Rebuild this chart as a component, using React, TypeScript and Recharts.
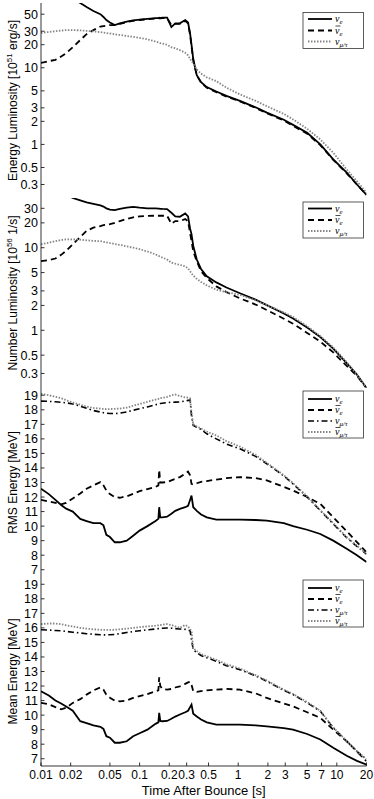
import React from "react";
import { LineChart, Line, XAxis, YAxis, Label } from "recharts";

// time after bounce [s]
const times = [0.01, 0.012, 0.014, 0.016, 0.018, 0.021, 0.025, 0.029, 0.034, 0.04, 0.043, 0.046, 0.05, 0.056, 0.063, 0.074, 0.086, 0.1, 0.12, 0.145, 0.155, 0.158, 0.162, 0.17, 0.19, 0.21, 0.23, 0.256, 0.29, 0.31, 0.325, 0.336, 0.35, 0.38, 0.42, 0.48, 0.6, 0.76, 1.04, 1.5, 1.95, 2.9, 3.6, 5, 6.8, 9.2, 12.6, 16, 20];

// energy luminosity [1e51 erg/s]
const eLumNuE = [150, 130, 115, 100, 90, 80, 70, 62, 55, 50, 46, 42, 39, 36, 38, 40, 41.5, 42.5, 43.5, 44.5, 44.5, 45, 44.5, 45, 45, 34, 38, 38, 42, 39, 28, 20, 13, 8, 6.5, 5.6, 4.9, 4.3, 3.7, 3.05, 2.6, 2.1, 1.8, 1.42, 1.0, 0.64, 0.43, 0.3, 0.22];
const eLumNuEBar = [11.6, 12.2, 12.7, 14, 15.5, 18.5, 23, 27.5, 31, 34.5, 35, 35.5, 36, 36, 37.5, 39.5, 41, 42, 43, 44, 44, 44, 44, 44.5, 44.5, 36, 37.5, 37.5, 41, 38, 27, 19, 12.5, 8, 6.4, 5.5, 4.8, 4.2, 3.65, 3.0, 2.55, 2.05, 1.75, 1.38, 0.98, 0.63, 0.42, 0.3, 0.22];
const eLumNuX = [28.6, 29.3, 30, 30.6, 31, 31, 30.8, 30.3, 29.8, 29.2, 28.8, 28.4, 28, 27.4, 26.8, 26, 25.3, 24.6, 23.5, 22, 21.5, 21.3, 21, 20.7, 20, 18.5, 18, 17, 15.7, 14.5, 13, 12.2, 11.3, 9.5, 8.4, 7.5, 6.7, 5.5, 4.5, 3.7, 3.16, 2.5, 2.12, 1.6, 1.16, 0.78, 0.47, 0.33, 0.235];

// number luminosity [1e56 1/s]
const nLumNuE = [70, 60, 54, 48, 44, 40, 37.5, 35.5, 34, 32.5, 31.5, 30, 29, 28.5, 29.5, 30.5, 31.2, 30.5, 30, 30, 29.8, 29.8, 29.6, 29.5, 29.4, 26.5, 24, 23.7, 26, 24, 17, 14.6, 10.5, 7.2, 5.5, 4.5, 3.8, 3.3, 2.81, 2.35, 2.02, 1.6, 1.39, 1.08, 0.83, 0.6, 0.4, 0.29, 0.2];
const nLumNuEBar = [6.86, 7.1, 7.4, 8.2, 9.2, 11, 13.5, 16, 17.5, 18.3, 18.8, 19, 19.3, 20, 21, 22.3, 23.3, 24, 24.3, 24.4, 24.4, 24.4, 24.4, 24.4, 24.4, 19.5, 21, 21, 22.2, 21, 15, 12, 9, 6.86, 5.2, 4.3, 3.4, 2.9, 2.44, 2.05, 1.76, 1.38, 1.2, 0.93, 0.73, 0.54, 0.37, 0.28, 0.2];
const nLumNuX = [11, 11.5, 12, 12.4, 12.6, 12.6, 12.5, 12.3, 12.1, 12, 11.8, 11.6, 11.4, 11.1, 10.8, 10.4, 10, 9.6, 9.0, 8.3, 8.0, 7.9, 7.8, 7.6, 7.2, 6.6, 6.4, 6.2, 5.95, 5.6, 5.2, 4.9, 4.6, 4.2, 3.85, 3.5, 3.1, 2.9, 2.68, 2.3, 2.02, 1.65, 1.45, 1.12, 0.85, 0.62, 0.41, 0.29, 0.2];

// rms energy [MeV]
const rmsNuE = [12.57, 12.2, 11.8, 11.45, 11.2, 11.0, 10.5, 10.35, 10.2, 10.2, 10.05, 9.4, 9.25, 8.89, 8.89, 9.0, 9.34, 9.69, 10.0, 10.35, 10.5, 11.3, 10.6, 10.6, 10.65, 10.85, 11.05, 11.19, 11.3, 11.4, 11.8, 12.1, 11.3, 11.05, 10.8, 10.6, 10.45, 10.45, 10.45, 10.42, 10.38, 10.2, 10.0, 9.75, 9.46, 9.0, 8.45, 8.0, 7.53];
const rmsNuEBar = [11.8, 11.7, 11.6, 11.5, 11.6, 11.9, 12.25, 12.57, 12.8, 13.03, 12.8, 12.45, 12.2, 12.0, 11.95, 12.05, 12.22, 12.4, 12.55, 12.7, 12.8, 13.87, 13.0, 13.0, 13.03, 13.15, 13.25, 13.37, 13.6, 13.75, 13.5, 12.9, 12.85, 12.95, 13.05, 13.1, 13.2, 13.3, 13.37, 13.3, 13.14, 12.7, 12.45, 12.0, 11.53, 10.61, 9.65, 8.9, 8.2];
const rmsNuX = [18.6, 18.58, 18.55, 18.52, 18.48, 18.4, 18.25, 18.1, 17.95, 17.85, 17.8, 17.77, 17.75, 17.74, 17.77, 17.85, 17.97, 18.08, 18.2, 18.35, 18.4, 18.42, 18.43, 18.45, 18.5, 18.52, 18.53, 18.54, 18.6, 18.65, 18.66, 17.6, 16.93, 16.8, 16.65, 16.35, 16.0, 15.65, 15.32, 14.8, 14.29, 13.45, 12.9, 12.0, 11.07, 10.15, 9.2, 8.6, 8.08];
const rmsNuXBar = [19.1, 19.0, 18.9, 18.8, 18.66, 18.5, 18.35, 18.22, 18.13, 18.08, 18.06, 18.05, 18.05, 18.07, 18.08, 18.15, 18.28, 18.4, 18.55, 18.7, 18.75, 18.8, 18.8, 18.82, 18.89, 19.0, 19.05, 18.95, 18.85, 18.84, 18.8, 17.8, 17.0, 16.85, 16.72, 16.5, 16.24, 15.85, 15.47, 14.9, 14.35, 13.5, 12.95, 12.05, 11.1, 10.2, 9.25, 8.65, 8.1];

// mean energy [MeV]
const meanNuE = [11.64, 11.35, 11.0, 10.8, 10.6, 10.3, 9.58, 9.45, 9.3, 9.2, 9.05, 8.55, 8.45, 8.1, 8.1, 8.2, 8.55, 8.75, 9.0, 9.4, 9.5, 10.15, 9.6, 9.58, 9.6, 9.75, 9.9, 10.04, 10.2, 10.3, 10.55, 10.72, 10.1, 9.9, 9.7, 9.5, 9.35, 9.35, 9.35, 9.3, 9.23, 9.1, 9.0, 8.7, 8.32, 7.75, 7.2, 6.85, 6.6];
const meanNuEBar = [10.84, 10.75, 10.55, 10.4, 10.5, 10.84, 11.1, 11.41, 11.7, 11.9, 11.75, 11.41, 11.2, 11.0, 10.95, 11.0, 11.18, 11.3, 11.45, 11.64, 11.7, 12.6, 12.0, 11.8, 11.75, 11.8, 11.9, 11.98, 12.15, 12.25, 12.3, 12.1, 11.64, 11.6, 11.65, 11.7, 11.75, 11.8, 11.75, 11.5, 11.18, 10.8, 10.6, 10.2, 9.81, 9.0, 8.2, 7.5, 6.83];
const meanNuX = [15.87, 15.85, 15.82, 15.8, 15.76, 15.7, 15.65, 15.6, 15.56, 15.53, 15.52, 15.52, 15.53, 15.55, 15.6, 15.68, 15.75, 15.8, 15.87, 15.92, 15.95, 15.95, 15.96, 15.97, 15.99, 15.98, 15.95, 15.92, 15.9, 15.85, 15.8, 15.2, 14.5, 14.3, 14.1, 13.95, 13.7, 13.4, 13.13, 12.7, 12.33, 11.7, 11.41, 10.85, 10.27, 9.13, 8.2, 7.5, 6.95];
const meanNuXBar = [16.26, 16.3, 16.3, 16.25, 16.18, 16.1, 16.0, 15.95, 15.9, 15.87, 15.87, 15.86, 15.86, 15.87, 15.9, 15.95, 16.0, 16.05, 16.1, 16.15, 16.18, 16.2, 16.2, 16.22, 16.26, 16.2, 16.1, 16.0, 16.2, 16.1, 15.9, 15.8, 14.6, 14.4, 14.2, 14.05, 13.8, 13.5, 13.2, 12.75, 12.38, 11.75, 11.45, 10.9, 10.3, 9.15, 8.22, 7.52, 6.97];

const xTicks = [0.01, 0.02, 0.05, 0.1, 0.2, 0.3, 0.5, 1, 2, 3, 5, 7, 10, 20];
const lumTicksE = [0.3, 0.5, 1, 2, 3, 5, 10, 20, 30, 50];
const lumTicksN = [0.3, 0.5, 1, 2, 3, 5, 10, 20, 30];
const energyTicks = [7, 8, 9, 10, 11, 12, 13, 14, 15, 16, 17, 18, 19];

const W = 374;
const LEFT = 41;
const RIGHT = 7.5;
const SANS = '"Liberation Sans", Arial, Helvetica, sans-serif';
const SERIF = '"Liberation Serif", "DejaVu Serif", serif';
const TICK = 3.5;

const STYLES: Record<string, { stroke: string; dash?: string; width: number }> = {
  solid: { stroke: "#000", width: 1.8 },
  dashed: { stroke: "#000", dash: "6 4", width: 1.8 },
  dashdot: { stroke: "#000", dash: "6 3 1.5 3", width: 1.6 },
  dotted: { stroke: "#858585", dash: "1.5 1.5", width: 1.8 },
};

type Series = { key: string; values: number[]; style: string; bar: boolean; sub: string };

const BottomTick = (p: any) => (
  <g>
    <line x1={p.x} x2={p.x} y1={p.y} y2={p.y - TICK} stroke="#000" strokeWidth={0.8} />
    {p.show && (
      <text x={p.x} y={p.y + 13} textAnchor="middle" fontSize={12} fontFamily={SANS} fill="#000">
        {p.payload.value}
      </text>
    )}
  </g>
);
const TopTick = (p: any) => <line x1={p.x} x2={p.x} y1={p.y} y2={p.y + TICK} stroke="#000" strokeWidth={0.8} />;
const LeftTick = (p: any) => (
  <g>
    <line x1={p.x} x2={p.x + TICK} y1={p.y} y2={p.y} stroke="#000" strokeWidth={0.8} />
    <text x={p.x - 3} y={p.y + 4.5} textAnchor="end" fontSize={12.5} fontFamily={SANS} fill="#000">
      {p.payload.value}
    </text>
  </g>
);
const RightTick = (p: any) => <line x1={p.x} x2={p.x - TICK} y1={p.y} y2={p.y} stroke="#000" strokeWidth={0.8} />;

function NuLabel({ x, y, bar, sub }: { x: number; y: number; bar: boolean; sub: string }) {
  return (
    <g>
      <text x={x} y={y + 3} fontFamily={SERIF} fontSize={10} fontStyle="italic" fill="#000">
        ν<tspan fontSize={7} dy={2}>{sub}</tspan>
      </text>
      {bar && <line x1={x + 0.5} x2={x + 5.5} y1={y - 4.5} y2={y - 4.5} stroke="#000" strokeWidth={0.7} />}
    </g>
  );
}

function Panel(props: {
  height: number;
  top: number;
  bottom: number;
  yLog: boolean;
  yDomain: [number, number];
  yTicks: number[];
  series: Series[];
  yLabel: React.ReactNode;
  legend: { top: number; height: number; rows: number[] };
  last?: boolean;
}) {
  const { height, top, bottom, yLog, yDomain, yTicks, series, yLabel, legend, last } = props;
  const data = times.map((t, i) => {
    const r: any = { t };
    series.forEach((s) => (r[s.key] = s.values[i]));
    return r;
  });
  const plotH = height - top - bottom;
  const midY = top + plotH / 2;
  return (
    <div style={{ position: "relative", width: W, height }}>
      <LineChart width={W} height={height} data={data} margin={{ top, right: RIGHT, bottom: 0, left: 0 }}>
        <XAxis
          xAxisId="b"
          dataKey="t"
          type="number"
          scale="log"
          domain={[0.01, 20]}
          allowDataOverflow
          ticks={xTicks}
          interval={0}
          tickSize={0}
          tickMargin={0}
          tickLine={false}
          height={bottom}
          axisLine={{ stroke: "#000", strokeWidth: 0.8 }}
          tick={(p: any) => <BottomTick {...p} show={!!last} />}
        >
          {last && (
            <Label
              content={() => (
                <text x={LEFT + (W - RIGHT - LEFT) / 2} y={top + plotH + 29} textAnchor="middle" fontSize={13} fontFamily={SANS} fill="#000">
                  Time After Bounce [s]
                </text>
              )}
            />
          )}
        </XAxis>
        <XAxis
          xAxisId="t"
          orientation="top"
          dataKey="t"
          type="number"
          scale="log"
          domain={[0.01, 20]}
          allowDataOverflow
          ticks={xTicks}
          interval={0}
          tickSize={0}
          tickMargin={0}
          tickLine={false}
          height={0}
          axisLine={{ stroke: "#000", strokeWidth: 0.8 }}
          tick={TopTick}
        />
        <YAxis
          yAxisId="l"
          type="number"
          scale={yLog ? "log" : "linear"}
          domain={yDomain}
          allowDataOverflow
          ticks={yTicks}
          interval={0}
          tickSize={0}
          tickMargin={0}
          tickLine={false}
          width={LEFT}
          axisLine={{ stroke: "#000", strokeWidth: 0.8 }}
          tick={LeftTick}
        >
          <Label
            content={() => (
              <text x={13} y={midY} transform={`rotate(-90 13 ${midY})`} textAnchor="middle" dominantBaseline="central" fontSize={12} fontFamily={SANS} fill="#000">
                {yLabel}
              </text>
            )}
          />
        </YAxis>
        <YAxis
          yAxisId="r"
          orientation="right"
          type="number"
          scale={yLog ? "log" : "linear"}
          domain={yDomain}
          allowDataOverflow
          ticks={yTicks}
          interval={0}
          tickSize={0}
          tickMargin={0}
          tickLine={false}
          width={0}
          axisLine={{ stroke: "#000", strokeWidth: 0.8 }}
          tick={RightTick}
        />
        {series.map((s) => (
          <Line
            key={s.key}
            xAxisId="b"
            yAxisId="l"
            dataKey={s.key}
            type="linear"
            stroke={STYLES[s.style].stroke}
            strokeWidth={STYLES[s.style].width}
            strokeDasharray={STYLES[s.style].dash}
            dot={false}
            activeDot={false}
            isAnimationActive={false}
          />
        ))}
      </LineChart>
      <svg width={W} height={height} style={{ position: "absolute", left: 0, top: 0, pointerEvents: "none" }}>
        <rect x={303} y={legend.top} width={60.5} height={legend.height} fill="#fff" stroke="#333" strokeWidth={0.8} />
        {series.map((s, i) => {
          const y = legend.top + legend.rows[i];
          const st = STYLES[s.style];
          return (
            <g key={s.key}>
              <line x1={308} x2={332} y1={y} y2={y} stroke={st.stroke} strokeWidth={st.width} strokeDasharray={st.dash} />
              <NuLabel x={335} y={y} bar={s.bar} sub={s.sub} />
            </g>
          );
        })}
      </svg>
    </div>
  );
}

const sup = (s: string) => (
  <>
    <tspan dy={-4} fontSize={8}>
      {s}
    </tspan>
    <tspan dy={4}> </tspan>
  </>
);

export default function App() {
  const three = { rows: [6.5, 18, 29], height: 36 };
  const four = { rows: [8, 19, 30, 41], height: 47 };
  return (
    <div style={{ position: "absolute", left: 0, top: 0, width: W, background: "#fff" }}>
      <Panel
        height={198}
        top={3}
        bottom={0}
        yLog
        yDomain={[0.2, 70]}
        yTicks={lumTicksE}
        yLabel={<>Energy Luminosity [10{sup("51")}erg/s]</>}
        legend={{ top: 12.5, ...three }}
        series={[
          { key: "e", values: eLumNuE, style: "solid", bar: false, sub: "e" },
          { key: "eb", values: eLumNuEBar, style: "dashed", bar: true, sub: "e" },
          { key: "x", values: eLumNuX, style: "dotted", bar: false, sub: "μ/τ" },
        ]}
      />
      <Panel
        height={190}
        top={0}
        bottom={0}
        yLog
        yDomain={[0.2, 40]}
        yTicks={lumTicksN}
        yLabel={<>Number Luminosity [10{sup("56")}1/s]</>}
        legend={{ top: 4, ...three }}
        series={[
          { key: "e", values: nLumNuE, style: "solid", bar: false, sub: "e" },
          { key: "eb", values: nLumNuEBar, style: "dashed", bar: true, sub: "e" },
          { key: "x", values: nLumNuX, style: "dotted", bar: false, sub: "μ/τ" },
        ]}
      />
      <Panel
        height={189}
        top={0}
        bottom={0}
        yLog={false}
        yDomain={[6.5, 19.5]}
        yTicks={energyTicks}
        yLabel="RMS Energy [MeV]"
        legend={{ top: 3, ...four }}
        series={[
          { key: "e", values: rmsNuE, style: "solid", bar: false, sub: "e" },
          { key: "eb", values: rmsNuEBar, style: "dashed", bar: true, sub: "e" },
          { key: "x", values: rmsNuX, style: "dashdot", bar: false, sub: "μ/τ" },
          { key: "xb", values: rmsNuXBar, style: "dotted", bar: true, sub: "μ/τ" },
        ]}
      />
      <Panel
        height={222}
        top={0}
        bottom={33}
        yLog={false}
        yDomain={[6.5, 19.5]}
        yTicks={energyTicks}
        yLabel="Mean Energy [MeV]"
        legend={{ top: 3, ...four }}
        last
        series={[
          { key: "e", values: meanNuE, style: "solid", bar: false, sub: "e" },
          { key: "eb", values: meanNuEBar, style: "dashed", bar: true, sub: "e" },
          { key: "x", values: meanNuX, style: "dashdot", bar: false, sub: "μ/τ" },
          { key: "xb", values: meanNuXBar, style: "dotted", bar: true, sub: "μ/τ" },
        ]}
      />
    </div>
  );
}
